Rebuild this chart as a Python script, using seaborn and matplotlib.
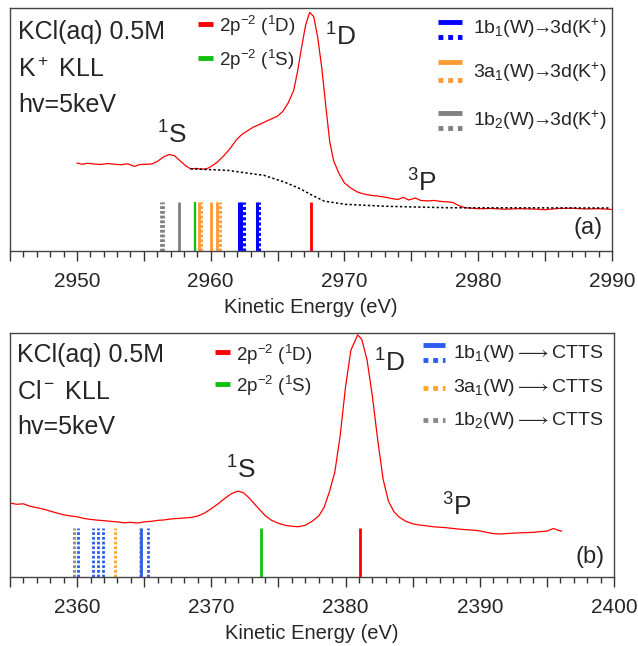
import numpy as np
import pandas as pd
import seaborn as sns
import matplotlib.pyplot as plt
from matplotlib.ticker import MultipleLocator, FuncFormatter

sns.set_theme(style="white")
plt.rcParams['font.family'] = ['Liberation Sans', 'DejaVu Sans']
plt.rcParams['mathtext.fontset'] = 'custom'
plt.rcParams['mathtext.rm'] = 'Liberation Sans'
plt.rcParams['mathtext.it'] = 'Liberation Sans:italic'
plt.rcParams['mathtext.default'] = 'regular'
plt.rcParams['mathtext.fallback'] = 'stixsans'

# ---- (a) K+ KLL spectrum, normalised intensity ----
k_energy = [2950.0, 2950.4, 2950.8, 2951.3, 2951.8, 2952.3, 2952.8, 2953.3, 2953.8, 2954.3,
            2954.7, 2955.2, 2955.6, 2956.0, 2956.5, 2956.9, 2957.3, 2957.7, 2958.1, 2958.5,
            2958.9, 2959.3, 2959.7, 2960.1, 2960.5, 2961.0, 2961.5, 2961.9, 2962.3, 2962.7,
            2963.2, 2963.7, 2964.2, 2964.6, 2965.0, 2965.4, 2965.8, 2966.2, 2966.5, 2966.8,
            2967.1, 2967.4, 2967.7, 2968.0, 2968.3, 2968.6, 2968.9, 2969.2, 2969.6, 2970.0,
            2970.5, 2971.0, 2971.5, 2972.0, 2972.5, 2973.0, 2973.5, 2974.0, 2974.4, 2974.8,
            2975.3, 2975.7, 2976.2, 2976.7, 2977.2, 2977.7, 2978.1, 2978.5, 2979.0, 2979.5,
            2980.0, 2981.0, 2982.0, 2983.0, 2984.0, 2985.0, 2986.0, 2987.0, 2988.0, 2989.0, 2990.0]
k_signal = [0.362, 0.357, 0.361, 0.358, 0.356, 0.360, 0.357, 0.355, 0.359, 0.348,
            0.356, 0.357, 0.358, 0.368, 0.388, 0.397, 0.392, 0.372, 0.352, 0.338,
            0.340, 0.337, 0.338, 0.350, 0.366, 0.393, 0.425, 0.456, 0.478, 0.493,
            0.510, 0.522, 0.535, 0.545, 0.555, 0.575, 0.610, 0.660, 0.740, 0.840,
            0.930, 0.982, 0.965, 0.880, 0.756, 0.600, 0.450, 0.370, 0.318, 0.280,
            0.258, 0.242, 0.234, 0.229, 0.226, 0.222, 0.216, 0.212, 0.221, 0.210,
            0.218, 0.208, 0.206, 0.208, 0.204, 0.202, 0.200, 0.188, 0.178, 0.176,
            0.174, 0.175, 0.172, 0.174, 0.173, 0.170, 0.175, 0.176, 0.173, 0.174, 0.171]
k_bg_energy = [2958.5, 2961.25, 2964.0, 2965.5, 2966.7, 2967.6, 2968.5, 2970.1, 2973.1, 2977.7, 2989.8]
k_bg_signal = [0.338, 0.332, 0.311, 0.284, 0.256, 0.229, 0.205, 0.192, 0.184, 0.178, 0.177]

k_1D = [2967.5]
k_1S = [2958.8]
k_1b1_solid = [2962.1, 2962.3, 2963.5]
k_1b1_dot = [2962.5, 2963.6]
k_3a1_solid = [2959.1, 2960.0, 2960.5]
k_3a1_dot = [2959.3, 2960.7]
k_1b2_solid = [2957.6]
k_1b2_dot = [2956.3, 2956.4]

# ---- (b) Cl- KLL spectrum ----
cl_energy = [2355.0, 2355.5, 2356.0, 2356.5, 2357.0, 2357.5, 2358.0, 2358.5, 2359.0, 2359.5,
             2360.0, 2360.5, 2361.0, 2361.5, 2362.0, 2362.5, 2363.0, 2363.5, 2364.0, 2364.5,
             2365.0, 2365.5, 2366.0, 2366.5, 2367.0, 2367.5, 2368.0, 2368.5, 2369.0, 2369.5,
             2370.0, 2370.5, 2371.0, 2371.5, 2372.0, 2372.4, 2372.8, 2373.2, 2373.6, 2374.0,
             2374.5, 2375.0, 2375.5, 2376.0, 2376.5, 2377.0, 2377.5, 2378.0, 2378.4, 2378.8,
             2379.2, 2379.6, 2380.0, 2380.4, 2380.9, 2381.2, 2381.6, 2382.0, 2382.4, 2382.8,
             2383.2, 2383.6, 2384.0, 2384.5, 2385.0, 2385.5, 2386.0, 2386.5, 2387.0, 2387.5,
             2388.0, 2388.5, 2389.0, 2389.5, 2390.0, 2390.5, 2391.0, 2391.5, 2392.0, 2392.5,
             2393.0, 2393.5, 2394.0, 2394.5, 2395.0, 2395.5, 2395.8, 2396.1]
cl_signal = [0.303, 0.298, 0.300, 0.290, 0.284, 0.278, 0.270, 0.262, 0.255, 0.250,
             0.247, 0.240, 0.236, 0.233, 0.231, 0.228, 0.226, 0.222, 0.224, 0.221,
             0.226, 0.228, 0.232, 0.234, 0.238, 0.240, 0.242, 0.244, 0.250, 0.262,
             0.280, 0.300, 0.322, 0.342, 0.352, 0.345, 0.325, 0.300, 0.276, 0.252,
             0.232, 0.220, 0.212, 0.208, 0.206, 0.212, 0.228, 0.250, 0.285, 0.350,
             0.430, 0.580, 0.780, 0.930, 0.992, 0.975, 0.890, 0.740, 0.560, 0.400,
             0.310, 0.268, 0.245, 0.228, 0.218, 0.213, 0.210, 0.206, 0.204, 0.202,
             0.199, 0.196, 0.194, 0.192, 0.189, 0.183, 0.178, 0.176, 0.178, 0.180,
             0.181, 0.182, 0.183, 0.186, 0.188, 0.199, 0.192, 0.188]

cl_1D = [2381.1]
cl_1S = [2373.7]
cl_1b1_solid = [2364.75]
cl_1b1_dot = [2360.05, 2361.2, 2361.55, 2361.9, 2365.25]
cl_3a1_dot = [2362.8, 2364.65]
cl_1b2_dot = [2359.8]

RED, GREEN = '#ff0000', '#10c010'
STICK_H = 0.2
DOT = (0, (1.0, 0.7))

fig = plt.figure(figsize=(6.38, 6.46), dpi=100)
ax1 = fig.add_axes([10 / 638, 1 - 251 / 646, 602 / 638, 243 / 646])
ax2 = fig.add_axes([10 / 638, 1 - 577 / 646, 604 / 638, 244 / 646])


def style_axis(ax, x0, x1):
    ax.set_xlim(x0, x1)
    ax.set_ylim(0, 1)
    ax.set_yticks([])
    ax.set_ylabel('')
    ax.xaxis.set_major_locator(MultipleLocator(5))
    ax.xaxis.set_minor_locator(MultipleLocator(1))
    ax.xaxis.set_major_formatter(FuncFormatter(lambda v, p: f'{v:.0f}' if round(v) % 10 == 0 else ''))
    ax.tick_params(axis='x', which='major', bottom=True, direction='out', length=7, width=1,
                   color='#333333', labelsize=15, pad=8)
    ax.tick_params(axis='x', which='minor', bottom=True, direction='out', length=4, width=1,
                   color='#333333')
    for s in ax.spines.values():
        s.set_color('#444444')
        s.set_linewidth(1)
    ax.set_xlabel('Kinetic Energy (eV)', fontsize=14.5, labelpad=5)


def leg_line(ax, x0, x1, y, color, ls='-', lw=3.5):
    ax.plot([x0, x1], [y, y], transform=ax.transAxes, color=color, lw=lw, ls=ls,
            solid_capstyle='butt', dash_capstyle='butt')


# ---------------- panel (a) ----------------
sns.lineplot(x=k_energy, y=k_signal, ax=ax1, color=RED, lw=0.9)
sns.lineplot(x=k_bg_energy, y=k_bg_signal, ax=ax1, color='black', lw=1.1, ls=(0, (1.5, 1.5)))

BLUE_A, ORANGE_A, GRAY_A = '#0000ff', '#ff9933', '#808080'
ax1.vlines(k_1b2_dot, 0, STICK_H, colors=GRAY_A, lw=2, linestyles=DOT)
ax1.vlines(k_1b2_solid, 0, STICK_H, colors=GRAY_A, lw=2)
ax1.vlines(k_1S, 0, STICK_H, colors=GREEN, lw=1.6)
ax1.vlines(k_3a1_solid, 0, STICK_H, colors=ORANGE_A, lw=2)
ax1.vlines(k_3a1_dot, 0, STICK_H, colors=ORANGE_A, lw=2, linestyles=DOT)
ax1.vlines(k_1b1_solid, 0, STICK_H, colors=BLUE_A, lw=2.2)
ax1.vlines(k_1b1_dot, 0, STICK_H, colors=BLUE_A, lw=2.2, linestyles=DOT)
ax1.vlines(k_1D, 0, STICK_H, colors=RED, lw=2)
style_axis(ax1, 2945, 2990)

ax1.text(0.013, 0.90, 'KCl(aq) 0.5M', transform=ax1.transAxes, fontsize=18, va='center')
ax1.text(0.013, 0.745, 'K$^+$ KLL', transform=ax1.transAxes, fontsize=18, va='center')
ax1.text(0.013, 0.60, 'hv=5keV', transform=ax1.transAxes, fontsize=18, va='center')

leg_line(ax1, 0.312, 0.337, 0.934, RED)
ax1.text(0.347, 0.926, '2p$^{-2}$ ($^1$D)', transform=ax1.transAxes, fontsize=13.5, va='center')
leg_line(ax1, 0.312, 0.337, 0.794, GREEN)
ax1.text(0.347, 0.786, '2p$^{-2}$ ($^1$S)', transform=ax1.transAxes, fontsize=13.5, va='center')

for y_s, y_d, y_t, col, lab in [(0.942, 0.881, 0.918, BLUE_A, r'1b$_{1}$(W)$\!\!\rightarrow\!\!$3d(K$^{+}$)'),
                                 (0.778, 0.704, 0.737, ORANGE_A, r'3a$_{1}$(W)$\!\!\rightarrow\!\!$3d(K$^{+}$)'),
                                 (0.568, 0.506, 0.539, GRAY_A, r'1b$_{2}$(W)$\!\!\rightarrow\!\!$3d(K$^{+}$)')]:
    leg_line(ax1, 0.711, 0.751, y_s, col)
    leg_line(ax1, 0.711, 0.751, y_d, col, ls=(0, (1, 1)))
    ax1.text(0.769, y_t, lab, transform=ax1.transAxes, fontsize=14, va='center')

ax1.text(2957.1, 0.477, '$^1$S', fontsize=19, ha='center', va='center')
ax1.text(2969.7, 0.88, '$^1$D', fontsize=19, ha='center', va='center')
ax1.text(2975.8, 0.28, '$^3$P', fontsize=19, ha='center', va='center')
ax1.text(0.985, 0.095, '(a)', transform=ax1.transAxes, fontsize=17, ha='right', va='center')

# ---------------- panel (b) ----------------
sns.lineplot(x=cl_energy, y=cl_signal, ax=ax2, color=RED, lw=0.9)

BLUE_B, ORANGE_B, GRAY_B = '#2a5cf0', '#f8a828', '#8a8a8a'
ax2.vlines(cl_1b2_dot, 0, STICK_H, colors=GRAY_B, lw=2, linestyles=DOT)
ax2.vlines(cl_3a1_dot, 0, STICK_H, colors=ORANGE_B, lw=2, linestyles=DOT)
ax2.vlines(cl_1b1_solid, 0, STICK_H, colors=BLUE_B, lw=2)
ax2.vlines(cl_1b1_dot, 0, STICK_H, colors=BLUE_B, lw=2, linestyles=DOT)
ax2.vlines(cl_1S, 0, STICK_H, colors=GREEN, lw=2)
ax2.vlines(cl_1D, 0, STICK_H, colors=RED, lw=2)
style_axis(ax2, 2355, 2400)

ax2.text(0.012, 0.91, 'KCl(aq) 0.5M', transform=ax2.transAxes, fontsize=18, va='center')
ax2.text(0.012, 0.758, 'Cl$^-$ KLL', transform=ax2.transAxes, fontsize=18, va='center')
ax2.text(0.012, 0.615, 'hv=5keV', transform=ax2.transAxes, fontsize=18, va='center')

leg_line(ax2, 0.339, 0.364, 0.922, RED)
ax2.text(0.374, 0.91, '2p$^{-2}$ ($^1$D)', transform=ax2.transAxes, fontsize=13.5, va='center')
leg_line(ax2, 0.339, 0.364, 0.791, GREEN)
ax2.text(0.374, 0.783, '2p$^{-2}$ ($^1$S)', transform=ax2.transAxes, fontsize=13.5, va='center')

leg_line(ax2, 0.684, 0.72, 0.951, BLUE_B)
leg_line(ax2, 0.684, 0.72, 0.889, BLUE_B, ls=(0, (1, 1)))
ax2.text(0.733, 0.918, r'1b$_1$(W)$\longrightarrow$CTTS', transform=ax2.transAxes, fontsize=14, va='center')
leg_line(ax2, 0.684, 0.72, 0.775, ORANGE_B, ls=(0, (1, 1)))
ax2.text(0.733, 0.775, r'3a$_1$(W)$\longrightarrow$CTTS', transform=ax2.transAxes, fontsize=14, va='center')
leg_line(ax2, 0.684, 0.72, 0.643, GRAY_B, ls=(0, (1, 1)))
ax2.text(0.733, 0.643, r'1b$_2$(W)$\longrightarrow$CTTS', transform=ax2.transAxes, fontsize=14, va='center')

ax2.text(2372.2, 0.44, '$^1$S', fontsize=19, ha='center', va='center')
ax2.text(2383.3, 0.877, '$^1$D', fontsize=19, ha='center', va='center')
ax2.text(2388.3, 0.287, '$^3$P', fontsize=19, ha='center', va='center')
ax2.text(0.985, 0.08, '(b)', transform=ax2.transAxes, fontsize=17, ha='right', va='center')

fig.savefig('out.png', dpi=100)
